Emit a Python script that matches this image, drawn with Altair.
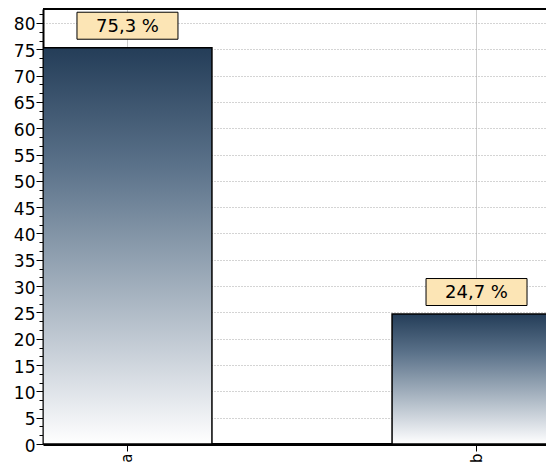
import altair as alt
import pandas as pd

# ---- data ----
categories = ["a", "b"]
values = [75.3, 24.7]
y_major_ticks = list(range(0, 81, 5))
y_minor_ticks = [round(i * 5 / 3, 3) for i in range(0, 50)]
y_max = 82.66

FONT = "DejaVu Sans"

df = pd.DataFrame({"cat": categories, "value": values})

xscale = alt.Scale(domain=categories, range=[0, 518], paddingInner=0.516, paddingOuter=0)
yscale = alt.Scale(domain=[0, y_max], nice=False, zero=True)

x_axis = alt.Axis(
    title=None, labelAngle=-90, labelFont=FONT, labelFontSize=15, labelColor="black",
    labelPadding=2, tickColor="black", tickSize=7, tickWidth=1,
    domainColor="black", domainWidth=3, grid=True, gridColor="#cccccc", gridWidth=1,
)
y_axis_major = alt.Axis(
    title=None, values=y_major_ticks, labelFont=FONT, labelFontSize=17, labelColor="black",
    labelPadding=1, labelOffset=2, tickColor="black", tickSize=7, tickWidth=1,
    domainColor="black", domainWidth=2, grid=True, gridColor="#a8a8a8", gridDash=[1, 2],
    gridWidth=1,
)
y_axis_minor = alt.Axis(
    title=None, orient="left", values=y_minor_ticks, labels=False, domain=False,
    grid=False, tickSize=4, tickColor="black", tickWidth=1,
)

gradient = alt.Gradient(
    gradient="linear",
    stops=[
        alt.GradientStop(color="#243d58", offset=0),
        alt.GradientStop(color="#5b728a", offset=0.3),
        alt.GradientStop(color="#a5b2bf", offset=0.62),
        alt.GradientStop(color="#e2e6eb", offset=0.88),
        alt.GradientStop(color="#ffffff", offset=1),
    ],
    x1=0, x2=0, y1=0, y2=1,
)

x_enc = alt.X("cat:N", scale=xscale, axis=x_axis, sort=categories)

bars = alt.Chart(df).mark_bar(
    clip=True, color=gradient, stroke="black", strokeWidth=1.5
).encode(
    x=x_enc,
    y=alt.Y("value:Q", scale=yscale, axis=y_axis_major),
)

boxes = alt.Chart(df).mark_point(
    shape="M-1,-0.2673L1,-0.2673L1,0.2673L-1,0.2673Z", size=10201,
    filled=True, fill="#fce5b5", fillOpacity=1, stroke="black", strokeWidth=1,
    strokeOpacity=1, opacity=1, yOffset=-22,
).encode(
    x=x_enc,
    y=alt.Y("value:Q", scale=yscale, axis=y_axis_minor),
)

labels = alt.Chart(df).transform_calculate(
    label="replace(format(datum.value, '.1f'), '.', ',') + ' %'"
).mark_text(
    font=FONT, fontSize=18, color="black", baseline="middle", align="center", yOffset=-21
).encode(
    x=x_enc,
    y=alt.Y("value:Q", scale=yscale, axis=None),
    text="label:N",
)

top_line = alt.Chart(df).mark_rule(color="black", strokeWidth=2).encode(
    y=alt.value(0)
)

chart = alt.layer(bars, boxes, labels, top_line).resolve_axis(
    y="independent"
).properties(
    width=503, height=435,
    autosize=alt.AutoSizeParams(type="none"),
    padding={"left": 35, "top": 1, "right": 0, "bottom": 19},
).configure_view(
    stroke=None, fill="#f5f7fc"
).configure(background="white")

chart.save("out.html", embed_options={"renderer": "svg", "actions": False})
